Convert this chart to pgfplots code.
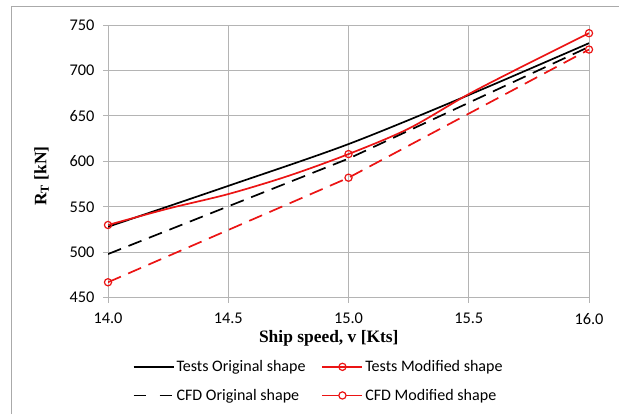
\documentclass[border=0pt]{standalone}
\usepackage{pgfplots}
\pgfplotsset{compat=1.18}
\usepackage{fontspec}
\setmainfont{Liberation Serif}
\newfontfamily\calibri{Carlito}
\definecolor{gridgray}{RGB}{180,180,180}
\definecolor{framegray}{RGB}{170,170,170}
\definecolor{xred}{RGB}{235,20,20}
\begin{document}
\begin{tikzpicture}[x=1bp,y=1bp]
\path[use as bounding box] (0,0) rectangle (619,414);
\draw[framegray, line width=1bp] (11,0) -- (11,407.5) -- (619,407.5);
\begin{axis}[
  at={(108bp,116.3bp)}, anchor=south west,
  scale only axis, width=481bp, height=272.7bp,
  xmin=14, xmax=16, ymin=450, ymax=750,
  xtick={14,14.5,15,15.5,16}, ytick={450,500,550,600,650,700,750},
  grid=major, grid style={gridgray, line width=0.9bp},
  axis line style={gridgray, line width=0.9bp},
  tick style={gridgray, line width=0.9bp}, tick align=outside, major tick length=5bp,
  xtick pos=bottom, ytick pos=left,
  /pgf/number format/assume math mode=true,
  xticklabel style={font=\calibri\fontsize{16.4}{19}\selectfont, /pgf/number format/fixed, /pgf/number format/fixed zerofill, /pgf/number format/precision=1},
  yticklabel style={font=\calibri\fontsize{16.4}{19}\selectfont},
  xticklabel shift=7bp, yticklabel shift=5bp,
  xlabel={\textbf{Ship speed, v [Kts]}},
  ylabel={\textbf{R\textsubscript{T} [kN]}},
  label style={font=\fontsize{17.5}{20}\selectfont},
  xlabel style={at={(axis description cs:0.459,-0.148)}, anchor=center},
  ylabel style={at={(axis description cs:-0.138,0.446)}, anchor=center},
  legend columns=2,
  legend cell align=left,
  legend style={draw=none, fill=none, font=\calibri\fontsize{16.1}{19}\selectfont,
    at={(axis description cs:0.045,-0.215)}, anchor=north west,
    /tikz/every even column/.append style={column sep=14bp},
    row sep=12bp},
]
\addplot[black, line width=1.7bp, smooth,
  legend image code/.code={\draw[black, solid, line width=1.7bp] (0,0) -- (40bp,0);}]
  coordinates {(14,528) (14.5,573) (15,619) (15.5,673) (16,730)};
\addlegendentry{Tests Original shape}
\addplot[xred, line width=1.7bp, smooth, mark=o, mark indices={1,5,9}, mark size=3.6bp, mark options={line width=1.2bp, fill=none},
  legend image code/.code={\draw[xred, solid, line width=1.7bp] (0,0) -- (40bp,0); \draw[xred, solid, line width=1.2bp] (20bp,0) circle (3.6bp);}]
  coordinates {(14,530) (14.25,548) (14.5,564) (14.75,584) (15,608) (15.25,636) (15.5,674) (15.75,708) (16,741)};
\addlegendentry{Tests Modified shape}
\addplot[black, line width=1.7bp, dash pattern=on 14bp off 8bp,
  legend image code/.code={\draw[black, line width=1.7bp, dash pattern=on 12bp off 14bp] (0,0) -- (40bp,0);}]
  coordinates {(14,498) (15,603) (16,726)};
\addlegendentry{CFD Original shape}
\addplot[xred, line width=1.7bp, dash pattern=on 14bp off 8bp, mark=o, mark size=3.6bp, mark options={solid, line width=1.2bp, fill=none},
  legend image code/.code={\draw[xred, solid, line width=1.7bp] (0,0) -- (40bp,0); \draw[xred, solid, line width=1.2bp, fill=white] (20bp,0) circle (3.6bp);}]
  coordinates {(14,467) (15,582) (16,723)};
\addlegendentry{CFD Modified shape}
\end{axis}
\end{tikzpicture}
\end{document}
